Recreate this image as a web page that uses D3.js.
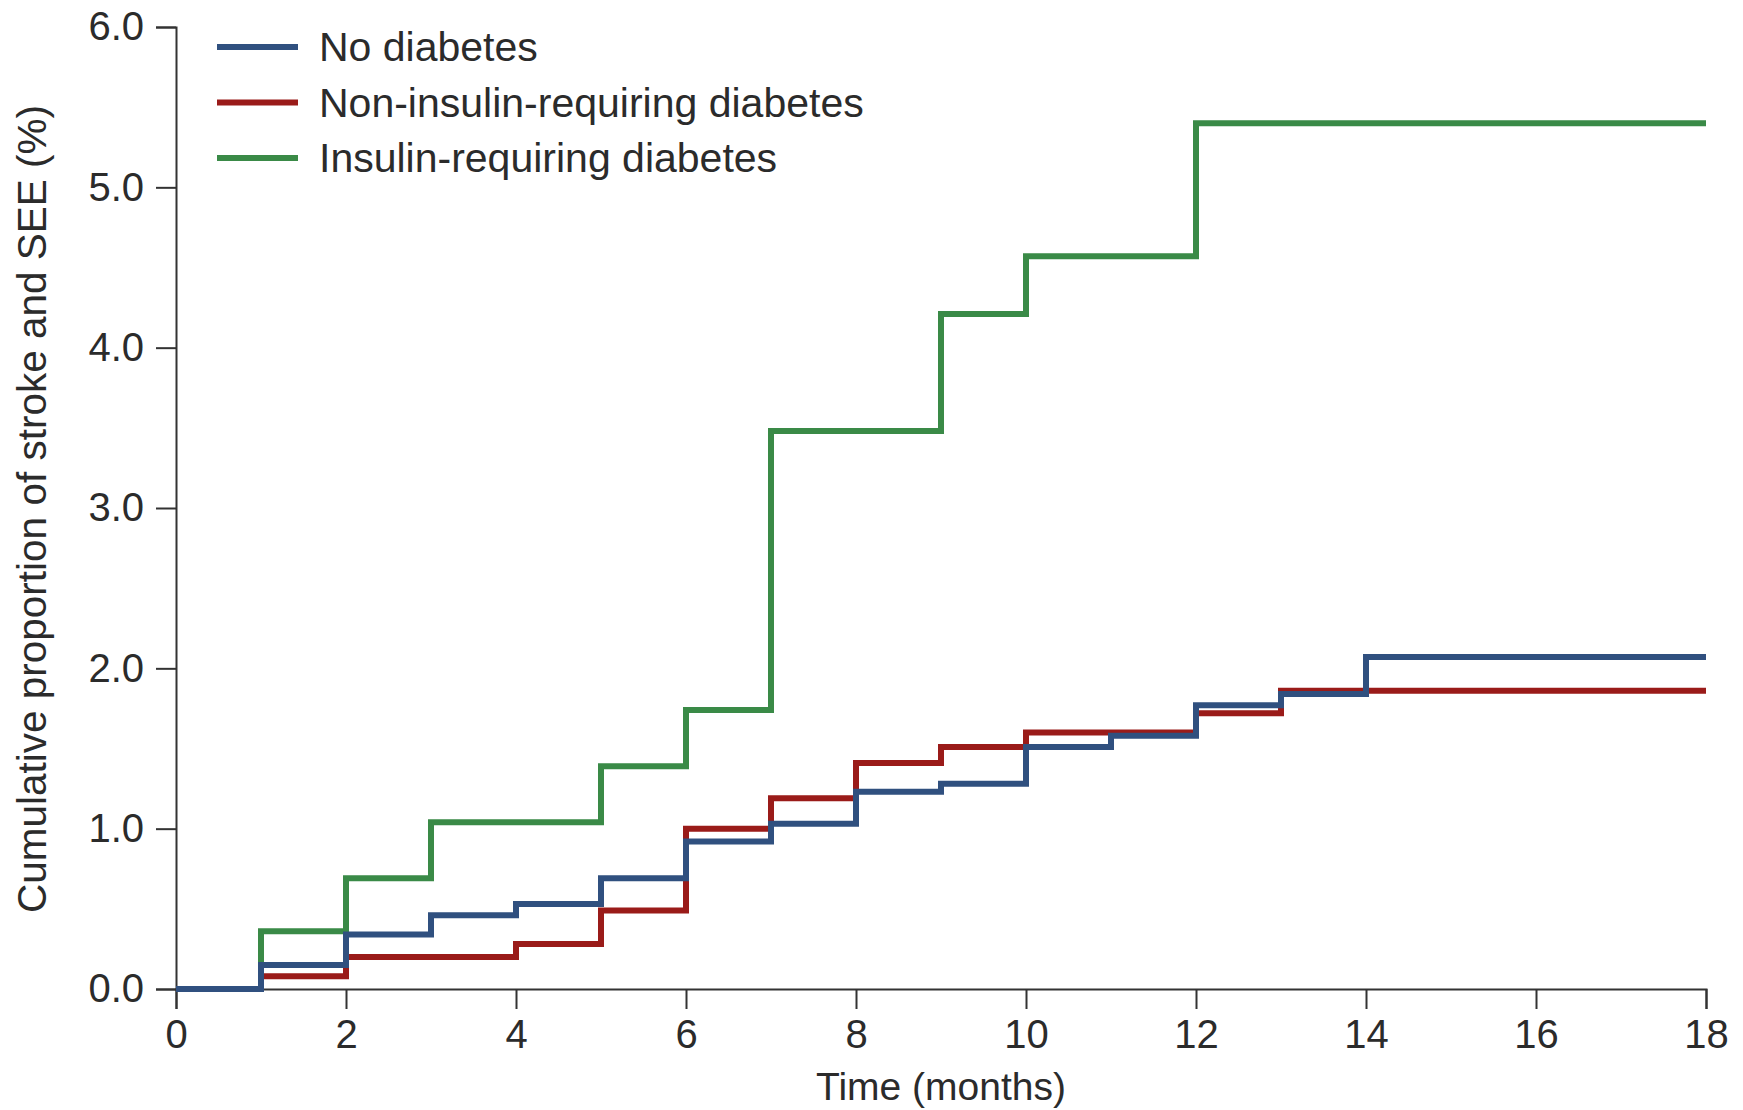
<!DOCTYPE html>
<head>
  <meta charset="utf-8">
  <script src="https://d3js.org/d3.v7.min.js"></script>
  <style>
    body { margin: 0; background: #fff; }
    text { font-family: "Liberation Sans", Arial, sans-serif; fill: #2b2b2b; }
  </style>
</head>
<body>
  <svg id="chart"></svg>
<script>

    // months at which each step starts, and cumulative % from then on
    var months = [0, 1, 2, 3, 4, 5, 6, 7, 8, 9, 10, 11, 12, 13, 14, 18];
    var noDiabetes     = [0, 0.15, 0.34, 0.46, 0.53, 0.69, 0.92, 1.03, 1.23, 1.28, 1.51, 1.58, 1.77, 1.84, 2.07, 2.07];
    var nonInsulin     = [0, 0.08, 0.20, 0.20, 0.28, 0.49, 1.00, 1.19, 1.41, 1.51, 1.60, 1.60, 1.72, 1.86, 1.86, 1.86];
    var insulin        = [0, 0.36, 0.69, 1.04, 1.04, 1.39, 1.74, 3.48, 3.48, 4.21, 4.57, 4.57, 5.40, 5.40, 5.40, 5.40];

    var seriesNames = ['No diabetes', 'Non-insulin-requiring diabetes', 'Insulin-requiring diabetes'];
    var seriesColors = ['#30507f', '#9a1b19', '#3a8a47'];
    var seriesValues = [noDiabetes, nonInsulin, insulin];

    var xTicks = [0, 2, 4, 6, 8, 10, 12, 14, 16, 18];
    var yTicks = [0, 1, 2, 3, 4, 5, 6];

    var width = 1743, height = 1110;
    var margin = {left: 176, right: 37, top: 27, bottom: 121};

    var svg = d3.select('#chart')
      .attr('width', width)
      .attr('height', height);

    var x = d3.scaleLinear().domain([0, 18]).range([margin.left, width - margin.right]);
    var y = d3.scaleLinear().domain([0, 6]).range([height - margin.bottom, margin.top]);

    var xAxis = svg.append('g')
      .attr('transform', 'translate(0,' + y(0) + ')')
      .call(d3.axisBottom(x).tickValues(xTicks).tickSize(20).tickPadding(11).tickFormat(d3.format('d')));

    var yAxis = svg.append('g')
      .attr('transform', 'translate(' + x(0) + ',0)')
      .call(d3.axisLeft(y).tickValues(yTicks).tickSize(20).tickPadding(12).tickFormat(d3.format('.1f')));

    [xAxis, yAxis].forEach(function (a) {
      a.select('.domain').attr('stroke', '#333').attr('stroke-width', 2);
      a.selectAll('.tick line').attr('stroke', '#333').attr('stroke-width', 2);
      a.selectAll('.tick text')
        .style('font-size', '40px')
        .style('fill', '#2b2b2b');
    });

    var line = d3.line()
      .curve(d3.curveStepAfter)
      .x(function (d) { return x(d[0]); })
      .y(function (d) { return y(d[1]); });

    // draw green first so red and blue sit above it, blue on top
    [2, 1, 0].forEach(function (i) {
      var pts = months.map(function (m, j) { return [m, seriesValues[i][j]]; });
      svg.append('path')
        .attr('d', line(pts))
        .attr('fill', 'none')
        .attr('stroke', seriesColors[i])
        .attr('stroke-width', 6)
        .attr('stroke-linejoin', 'miter')
        .attr('stroke-linecap', 'butt');
    });

    var legend = svg.append('g');
    seriesNames.forEach(function (name, i) {
      var ly = 47 + i * 55.5;
      legend.append('line')
        .attr('x1', 217).attr('x2', 298)
        .attr('y1', ly).attr('y2', ly)
        .attr('stroke', seriesColors[i])
        .attr('stroke-width', 6);
      legend.append('text')
        .attr('x', 319).attr('y', ly)
        .attr('dy', '0.35em')
        .style('font-size', '41px')
        .text(name);
    });

    svg.append('text')
      .attr('x', (x(0) + x(18)) / 2)
      .attr('y', 1100)
      .attr('text-anchor', 'middle')
      .style('font-size', '39px')
      .text('Time (months)');

    svg.append('text')
      .attr('transform', 'translate(46,' + 509 + ')rotate(-90)')
      .attr('text-anchor', 'middle')
      .style('font-size', '40.5px')
      .text('Cumulative proportion of stroke and SEE (%)');

</script>
</body>
